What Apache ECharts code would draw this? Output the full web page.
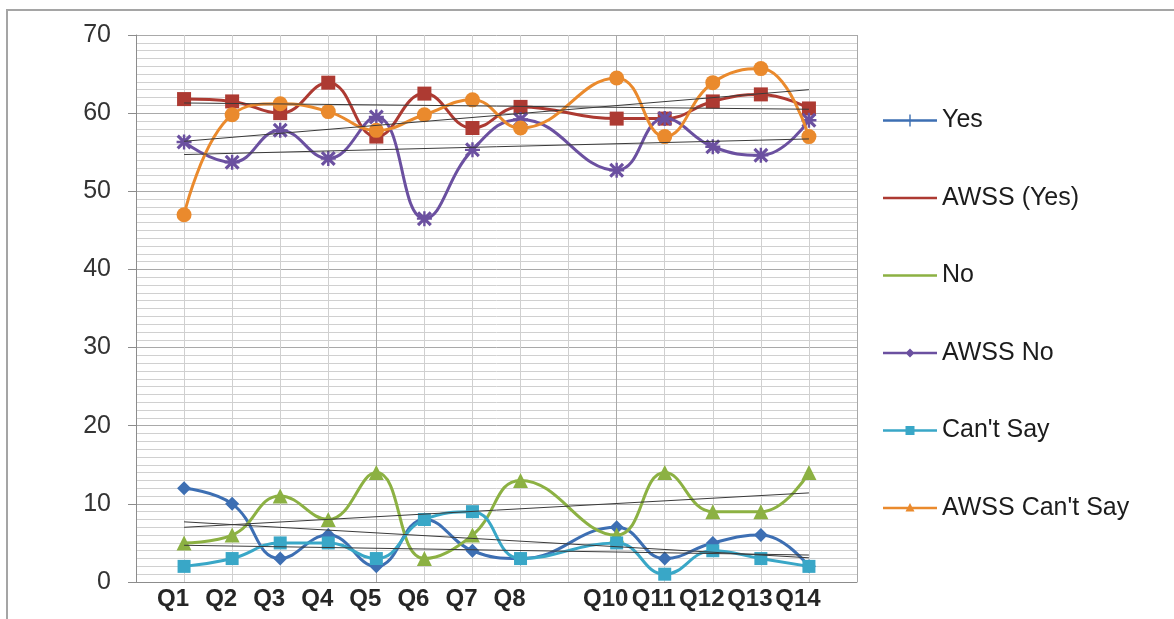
<!DOCTYPE html>
<html>
<head>
<meta charset="utf-8">
<script src="https://cdn.jsdelivr.net/npm/echarts@6/dist/echarts.min.js"></script>
<style>
html,body{margin:0;padding:0;background:#fff;}
#chart{width:1174px;height:619px;}
</style>
</head>
<body>
<div id="chart"></div>
<script>
// ---- data ----
const categories = ['Q1','Q2','Q3','Q4','Q5','Q6','Q7','Q8','Q10','Q11','Q12','Q13','Q14'];
const positions  = [1,2,3,4,5,6,7,8,10,11,12,13,14];
const seriesNames = ['Yes','AWSS (Yes)','No','AWSS No',"Can't Say","AWSS Can't Say"];
const yesValues         = [12,10,3,6,2,8,4,3,7,3,5,6,2];
const awssYesValues     = [61.8,61.5,60,63.9,57,62.5,58.1,60.8,59.3,59.3,61.5,62.4,60.6];
const noValues          = [5,6,11,8,14,3,6,13,6,14,9,9,14];
const awssNoValues      = [56.3,53.7,57.8,54.2,59.5,46.5,55.3,59.2,52.7,59.3,55.7,54.6,59.1];
const cantSayValues     = [2,3,5,5,3,8,9,3,5,1,4,3,2];
const awssCantSayValues = [47,59.8,61.2,60.2,57.8,59.8,61.7,58.1,64.5,57,63.9,65.7,57];
// linear trend lines (value at Q1, value at Q14)
const trendStart = [7.7,61.3,7.0,54.7,4.7,56.4];
const trendEnd   = [3.1,60.5,11.4,56.7,3.45,63.0];
const yTicks = [0,10,20,30,40,50,60,70];

const allValues = [yesValues,awssYesValues,noValues,awssNoValues,cantSayValues,awssCantSayValues];
const colors = ['#3d6fb3','#ad3a32','#8cb143','#6b50a0','#39a7c7','#ea8a2d'];
const starPath = 'path://M0,1.5 L1.5,0 L5,3.5 L8.5,0 L10,1.5 L6.5,5 L10,8.5 L8.5,10 L5,6.5 L1.5,10 L0,8.5 L3.5,5 Z M4.2,0 L5.8,0 L5.8,10 L4.2,10 Z M0,4.2 L10,4.2 L10,5.8 L0,5.8 Z';
const symbols = ['diamond','rect','triangle',starPath,'rect','circle'];
const symbolSizes = [14,14,15,15,13,15];

// legend icons: a line with a small marker, in a 54x20 box
const box = 'M0,0 L0.01,0 L0,0.01 Z M54,20 L53.99,20 L54,19.99 Z ';
const bar = 'M0,8.8 L54,8.8 L54,11.2 L0,11.2 Z ';
const legendIcons = [
  'path://' + box + bar + 'M26.3,4 L27.7,4 L27.7,16 L26.3,16 Z',
  'path://' + box + bar,
  'path://' + box + bar,
  'path://' + box + bar + 'M27,5.5 L31.5,10 L27,14.5 L22.5,10 Z',
  'path://' + box + bar + 'M22.5,5.5 L31.5,5.5 L31.5,14.5 L22.5,14.5 Z',
  'path://' + box + bar + 'M27,5 L31.5,13.5 L22.5,13.5 Z'
];

const series = [];
seriesNames.forEach((name, i) => {
  series.push({
    name: name,
    type: 'line',
    smooth: 0.45,
    data: positions.map((p, k) => [p, allValues[i][k]]),
    symbol: symbols[i],
    symbolSize: symbolSizes[i],
    color: colors[i],
    lineStyle: {width: 3, color: colors[i]},
    itemStyle: {color: colors[i]},
    z: 2 + i * 0.1,
    emphasis: {disabled: true}
  });
});
seriesNames.forEach((name, i) => {
  series.push({
    name: 'trend ' + name,
    type: 'line',
    data: [[positions[0], trendStart[i]], [positions[positions.length - 1], trendEnd[i]]],
    symbol: 'none',
    lineStyle: {width: 1, color: '#3a3a3a'},
    silent: true,
    z: 4
  });
});

const chart = echarts.init(document.getElementById('chart'), null, {renderer: 'canvas'});
chart.setOption({
  animation: false,
  backgroundColor: '#ffffff',
  graphic: [{
    type: 'rect',
    shape: {x: 7, y: 10, width: 1300, height: 800},
    style: {fill: 'none', stroke: '#a5a5a5', lineWidth: 2},
    silent: true, z: -10
  }],
  grid: {left: 136, right: 317, top: 35, bottom: 37},
  legend: {
    orient: 'vertical',
    left: 883,
    top: 108,
    padding: 0,
    itemWidth: 54,
    itemHeight: 20,
    itemGap: 52.5,
    selectedMode: false,
    itemStyle: {borderWidth: 0},
    textStyle: {fontFamily: 'Liberation Sans, Arial, sans-serif', fontSize: 25, color: '#1c1c1c'},
    data: seriesNames.map((n, i) => ({name: n, icon: legendIcons[i]}))
  },
  xAxis: {
    type: 'value',
    min: 0,
    max: 15,
    interval: 1,
    axisLine: {show: true, lineStyle: {color: '#8c8c8c', width: 1}},
    axisTick: {show: false},
    axisLabel: {
      margin: 5,
      fontFamily: 'Liberation Sans, Arial, sans-serif',
      fontSize: 24,
      fontWeight: 'bold',
      color: '#262626',
      padding: [0, 22, 0, 0],
      formatter: function (v) {
        const k = positions.indexOf(v);
        return k >= 0 ? categories[k] : '';
      }
    },
    splitLine: {show: true, lineStyle: {color: ['#a9a9a9','#d0d0d0','#d0d0d0','#d0d0d0','#d0d0d0'], width: 1}}
  },
  yAxis: {
    type: 'value',
    min: yTicks[0],
    max: yTicks[yTicks.length - 1],
    interval: 10,
    axisLine: {show: true, lineStyle: {color: '#8c8c8c', width: 1}},
    axisTick: {show: true, length: 8, lineStyle: {color: '#8c8c8c'}},
    axisLabel: {
      margin: 25,
      fontFamily: 'Liberation Sans, Arial, sans-serif',
      fontSize: 25,
      color: '#333333'
    },
    splitLine: {show: true, lineStyle: {color: '#a9a9a9', width: 1}},
    minorTick: {show: false, splitNumber: 10},
    minorSplitLine: {show: true, lineStyle: {color: '#d0d0d0', width: 1}}
  },
  series: series
});
</script>
</body>
</html>
